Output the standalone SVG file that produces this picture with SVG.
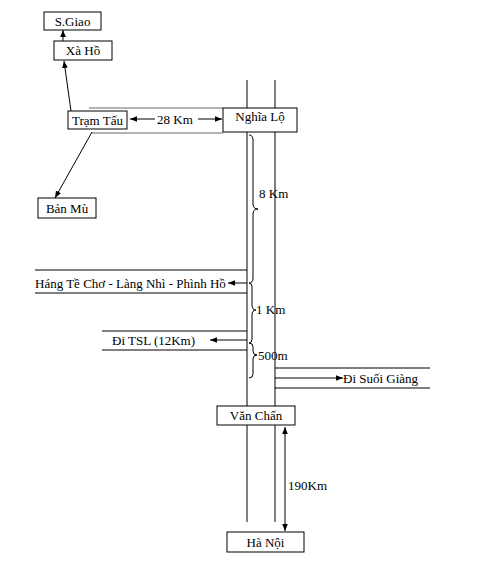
<svg xmlns="http://www.w3.org/2000/svg" width="496" height="574" viewBox="0 0 496 574">
<defs>
<marker id="ah" viewBox="0 0 10 10" refX="10" refY="5" markerWidth="7" markerHeight="7" orient="auto-start-reverse" markerUnits="userSpaceOnUse"><path d="M0,1 L10,5 L0,9 Z" fill="#000"/></marker>
</defs>
<style>
text{font-family:"Liberation Serif","Times New Roman",serif;font-size:13px;fill:#000}
.box{fill:#fff;stroke:#000;stroke-width:1}
.road{stroke:#000;stroke-width:1;fill:none}
.groad{stroke:#666;stroke-width:1.2;fill:none}
.arr{stroke:#000;stroke-width:1;fill:none;marker-end:url(#ah)}
.dbl{stroke:#000;stroke-width:1;fill:none;marker-end:url(#ah);marker-start:url(#ah)}
.brace{stroke:#000;stroke-width:1;fill:none}
</style>
<rect width="496" height="574" fill="#fff"/>
<g id="connectors">
<line class="road" x1="247" y1="80" x2="247" y2="522"/>
<line class="road" x1="275" y1="80" x2="275" y2="522"/>
<line class="groad" x1="89" y1="108" x2="223" y2="108"/>
<line class="groad" x1="92" y1="133" x2="223" y2="133"/>
<line class="dbl" x1="130" y1="119" x2="155" y2="119" style="marker-end:none"/>
<line class="arr" x1="198" y1="119" x2="222" y2="119"/>
<line class="arr" x1="63" y1="41" x2="63" y2="30"/>
<line class="arr" x1="71" y1="111" x2="64" y2="61"/>
<line class="arr" x1="92" y1="132" x2="55" y2="198"/>
<line class="road" x1="35" y1="270" x2="247" y2="270"/>
<line class="road" x1="35" y1="293" x2="247" y2="293"/>
<line class="arr" x1="247" y1="283" x2="228" y2="283"/>
<line class="road" x1="102" y1="331" x2="247" y2="331"/>
<line class="road" x1="102" y1="350" x2="247" y2="350"/>
<line class="arr" x1="247" y1="340" x2="210" y2="340"/>
<line class="road" x1="275" y1="368" x2="430" y2="368"/>
<line class="road" x1="275" y1="388" x2="430" y2="388"/>
<line class="arr" x1="275" y1="378" x2="343" y2="378"/>
<line class="dbl" x1="285" y1="427" x2="285" y2="531"/>
<path class="brace" d="M249,135 Q253,135 253,140 L253,204 Q253,209 258,209 Q253,209 253,214 L253,278 Q253,283 249,283"/>
<path class="brace" d="M249,283 Q252,283 252,287 L252,305 Q252,310 256,310 Q252,310 252,315 L252,339 Q252,343 249,343"/>
<path class="brace" d="M249,343 Q253,343 253,347 L253,351 Q253,355 257,355 Q253,355 253,359 L253,374 Q253,378 249,378"/>
</g>
<g id="sgiao"><rect class="box" x="44" y="12" width="57" height="18"/><text x="72.5" y="25.5" text-anchor="middle">S.Giao</text></g>
<g id="xaho"><rect class="box" x="54" y="41" width="58" height="19"/><text x="83" y="55" text-anchor="middle">Xà Hồ</text></g>
<g id="tramtau"><rect class="box" x="68" y="111" width="59" height="18"/><text x="97.5" y="124.5" text-anchor="middle">Trạm Tấu</text></g>
<g id="nghialo"><rect class="box" x="223" y="108" width="74" height="24"/><text x="260" y="121" text-anchor="middle">Nghĩa Lộ</text></g>
<g id="banmu"><rect class="box" x="38" y="198" width="58" height="20"/><text x="67" y="212.5" text-anchor="middle">Bản Mù</text></g>
<g id="vanchan"><rect class="box" x="217" y="406" width="78" height="19"/><text x="256" y="420" text-anchor="middle">Văn Chấn</text></g>
<g id="hanoi"><rect class="box" x="227" y="532" width="77" height="20"/><text x="265.5" y="546.5" text-anchor="middle">Hà Nội</text></g>
<g id="labels">
<text x="157" y="123.5">28 Km</text>
<text x="259" y="198">8 Km</text>
<text x="35" y="287.5">Háng Tề Chơ - Làng Nhì - Phình Hồ</text>
<text x="256" y="313.5">1 Km</text>
<text x="112" y="344.5">Đi TSL (12Km)</text>
<text x="258" y="359.5">500m</text>
<text x="343" y="382.5">Đi Suối Giàng</text>
<text x="288" y="490">190Km</text>
</g>
</svg>
